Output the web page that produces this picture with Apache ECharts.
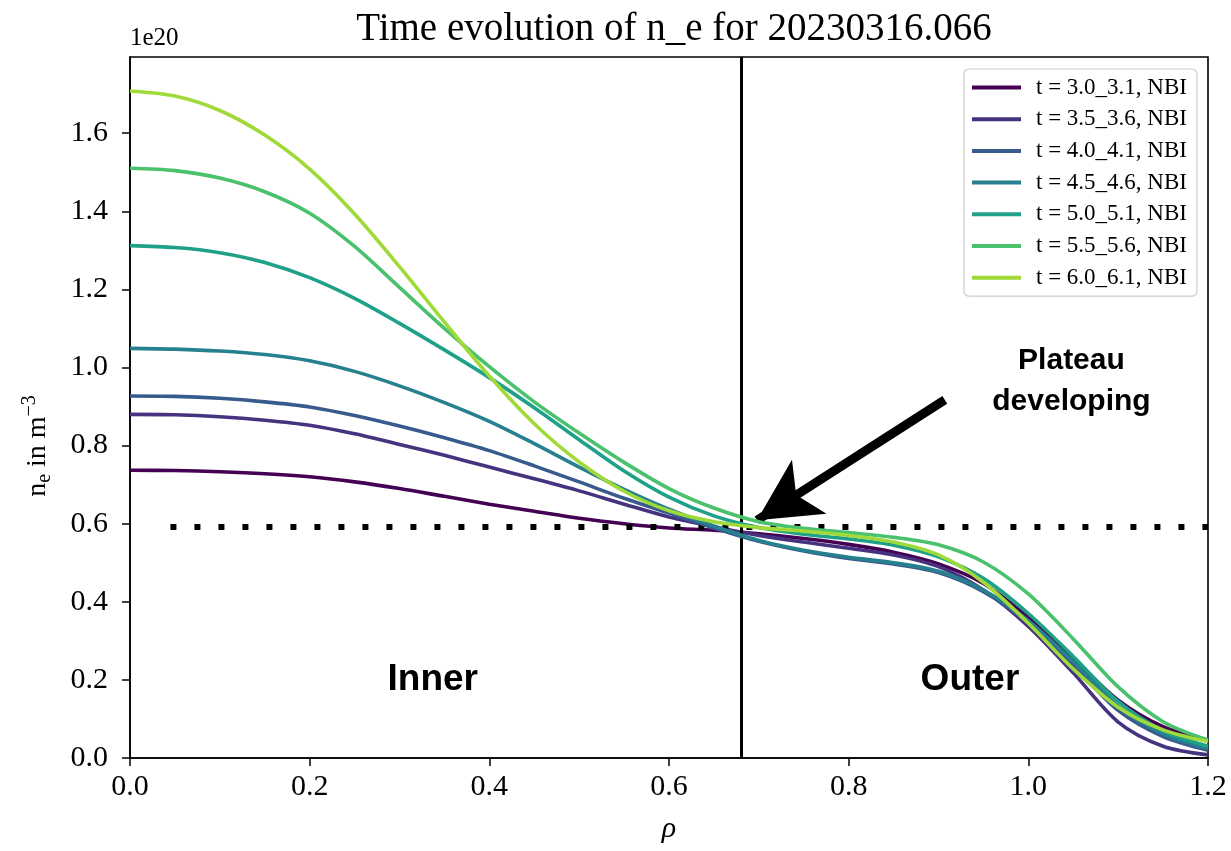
<!DOCTYPE html>
<html>
<head>
<meta charset="utf-8">
<script src="https://cdn.jsdelivr.net/npm/echarts@6/dist/echarts.min.js"></script>
<style>html,body{margin:0;padding:0;background:#fff}#c{width:1231px;height:851px}</style>
</head>
<body>
<div id="c"></div>
<script>
// radial coordinate rho
const rho = [0, 0.05, 0.1, 0.15, 0.2, 0.25, 0.3, 0.35, 0.4, 0.45, 0.5, 0.55, 0.6, 0.65, 0.7, 0.75, 0.8, 0.85, 0.9, 0.95, 1.0, 1.05, 1.1, 1.15, 1.2];
// n_e (units of 1e20 m^-3)
const t30 = [0.737,0.736,0.733,0.728,0.720,0.707,0.690,0.670,0.650,0.632,0.614,0.600,0.589,0.583,0.574,0.562,0.547,0.527,0.497,0.447,0.360,0.255,0.148,0.080,0.045];
const t35 = [0.880,0.879,0.874,0.865,0.852,0.830,0.803,0.775,0.745,0.715,0.684,0.650,0.617,0.592,0.570,0.553,0.537,0.520,0.490,0.430,0.337,0.218,0.092,0.030,0.008];
const t40 = [0.927,0.926,0.921,0.912,0.899,0.877,0.850,0.820,0.787,0.748,0.707,0.665,0.627,0.589,0.555,0.530,0.511,0.497,0.475,0.426,0.346,0.237,0.122,0.055,0.020];
const t45 = [1.049,1.047,1.042,1.033,1.017,0.990,0.953,0.910,0.862,0.805,0.745,0.688,0.637,0.594,0.557,0.532,0.514,0.500,0.478,0.430,0.352,0.247,0.133,0.062,0.025];
const t50 = [1.312,1.307,1.294,1.269,1.230,1.177,1.113,1.045,0.974,0.897,0.815,0.735,0.668,0.620,0.590,0.573,0.561,0.545,0.515,0.460,0.370,0.260,0.145,0.070,0.030];
const t55 = [1.510,1.504,1.485,1.450,1.395,1.310,1.205,1.100,1.002,0.912,0.832,0.757,0.690,0.640,0.605,0.588,0.577,0.565,0.546,0.502,0.420,0.305,0.182,0.093,0.046];
const t60 = [1.708,1.695,1.658,1.595,1.508,1.393,1.258,1.116,0.978,0.856,0.758,0.683,0.633,0.605,0.590,0.581,0.570,0.553,0.520,0.450,0.345,0.228,0.130,0.072,0.042];
const seriesNames = ['t = 3.0_3.1, NBI','t = 3.5_3.6, NBI','t = 4.0_4.1, NBI','t = 4.5_4.6, NBI','t = 5.0_5.1, NBI','t = 5.5_5.6, NBI','t = 6.0_6.1, NBI'];
const seriesValues = [t30, t35, t40, t45, t50, t55, t60];
const colors = ['#440154','#46337f','#375b8d','#27808e','#1fa188','#4ac16d','#a0da39'];
const xTicks = [0, 0.2, 0.4, 0.6, 0.8, 1.0, 1.2];
const yTicks = [0, 0.2, 0.4, 0.6, 0.8, 1.0, 1.2, 1.4, 1.6];
// reference lines / annotations
const rhoSplit = 0.676;
const plateauLevel = 0.591;
const arrowFrom = [0.907, 0.917];
const arrowTo = [0.698, 0.609];

const serif = 'Liberation Serif';
const sans = 'Liberation Sans';
const chart = echarts.init(document.getElementById('c'));

const series = seriesValues.map((vals, i) => ({
  name: seriesNames[i],
  type: 'line',
  data: rho.map((r, j) => [r, vals[j]]),
  smooth: 0.3,
  showSymbol: false,
  symbol: 'none',
  lineStyle: { width: 3.6, color: colors[i] },
  itemStyle: { color: colors[i] },
  z: 3 + i
}));

series.push({
  name: 'annot',
  type: 'line',
  data: [],
  z: 20,
  markLine: {
    silent: true,
    animation: false,
    symbol: ['none', 'none'],
    label: { show: false },
    data: [
      { xAxis: rhoSplit, lineStyle: { color: '#000', width: 3, type: 'solid' } },
      [
        { coord: [0.045, plateauLevel], lineStyle: { color: '#000', width: 6, type: [6, 18] } },
        { coord: [1.2, plateauLevel] }
      ],
      [
        { coord: arrowFrom, symbol: 'none', lineStyle: { color: '#000', width: 9, type: 'solid' } },
        { coord: arrowTo, symbol: 'arrow', symbolSize: [48, 62] }
      ]
    ]
  },
  markPoint: {
    silent: true,
    animation: false,
    symbol: 'circle',
    symbolSize: 0,
    data: [
      { coord: [0.337, 0.2], label: { show: true, formatter: 'Inner', position: 'inside', fontFamily: sans, fontWeight: 'bold', fontSize: 37, color: '#000' } },
      { coord: [0.935, 0.2], label: { show: true, formatter: 'Outer', position: 'inside', fontFamily: sans, fontWeight: 'bold', fontSize: 37, color: '#000' } },
      { coord: [1.048, 0.966], label: { show: true, formatter: 'Plateau\ndeveloping', position: 'inside', fontFamily: sans, fontWeight: 'bold', fontSize: 30, lineHeight: 41, align: 'center', color: '#000' } }
    ]
  }
});

chart.setOption({
  animation: false,
  backgroundColor: '#fff',
  title: {
    text: 'Time evolution of n_e for 20230316.066',
    left: 669, top: 5, textAlign: 'center',
    textStyle: { fontFamily: serif, fontSize: 39, fontWeight: 'normal', color: '#000' }
  },
  graphic: [
    { type: 'text', left: 130, top: 26, style: { text: '1e20', font: '25px "Liberation Serif"', fill: '#000' } },
    {
      type: 'text', x: 38, y: 446, rotation: Math.PI / 2,
      style: {
        text: '{b|n}{sub|e}{b| in m}{sup|−3}',
        align: 'center', verticalAlign: 'middle', fill: '#000',
        font: '28px "Liberation Serif"',
        rich: {
          b: { fontFamily: serif, fontSize: 28, fill: '#000' },
          sub: { fontFamily: serif, fontSize: 20, fill: '#000', padding: [14, 0, 0, 0] },
          sup: { fontFamily: serif, fontSize: 20, fill: '#000', padding: [0, 0, 16, 0] }
        }
      }
    }
  ],
  legend: {
    data: seriesNames,
    orient: 'vertical',
    left: 964, top: 69,
    padding: [7, 10, 7, 8],
    itemWidth: 49, itemHeight: 4, itemGap: 8.7,
    icon: 'rect',
    backgroundColor: '#fff',
    borderColor: '#cccccc', borderWidth: 1.2, borderRadius: 5,
    textStyle: { fontFamily: serif, fontSize: 23, color: '#000', padding: [0, 0, 0, 10] }
  },
  grid: { left: 130, right: 23, top: 57, bottom: 93, show: true, borderColor: '#000', borderWidth: 1.6, backgroundColor: 'transparent' },
  xAxis: {
    type: 'value', min: 0, max: 1.2, interval: 0.2,
    name: 'ρ', nameLocation: 'middle', nameGap: 56,
    nameTextStyle: { fontFamily: serif, fontStyle: 'italic', fontSize: 30, color: '#000' },
    axisLine: { show: true, onZero: false, lineStyle: { color: '#000', width: 1.6 } },
    axisTick: { show: true, inside: false, length: 8, lineStyle: { color: '#000', width: 1.5 } },
    axisLabel: { margin: 14, fontFamily: serif, fontSize: 30, color: '#000', formatter: v => xTicks.some(t => Math.abs(t - v) < 1e-6) ? v.toFixed(1) : '' },
    splitLine: { show: false }
  },
  yAxis: {
    type: 'value', min: 0, max: 1.795, interval: 0.2,
    axisLine: { show: true, onZero: false, lineStyle: { color: '#000', width: 1.6 } },
    axisTick: { show: true, inside: false, length: 8, lineStyle: { color: '#000', width: 1.5 } },
    axisLabel: { margin: 22, fontFamily: serif, fontSize: 30, color: '#000', showMaxLabel: false, formatter: v => yTicks.some(t => Math.abs(t - v) < 1e-6) ? v.toFixed(1) : '' },
    splitLine: { show: false }
  },
  series: series
});
</script>
</body>
</html>
